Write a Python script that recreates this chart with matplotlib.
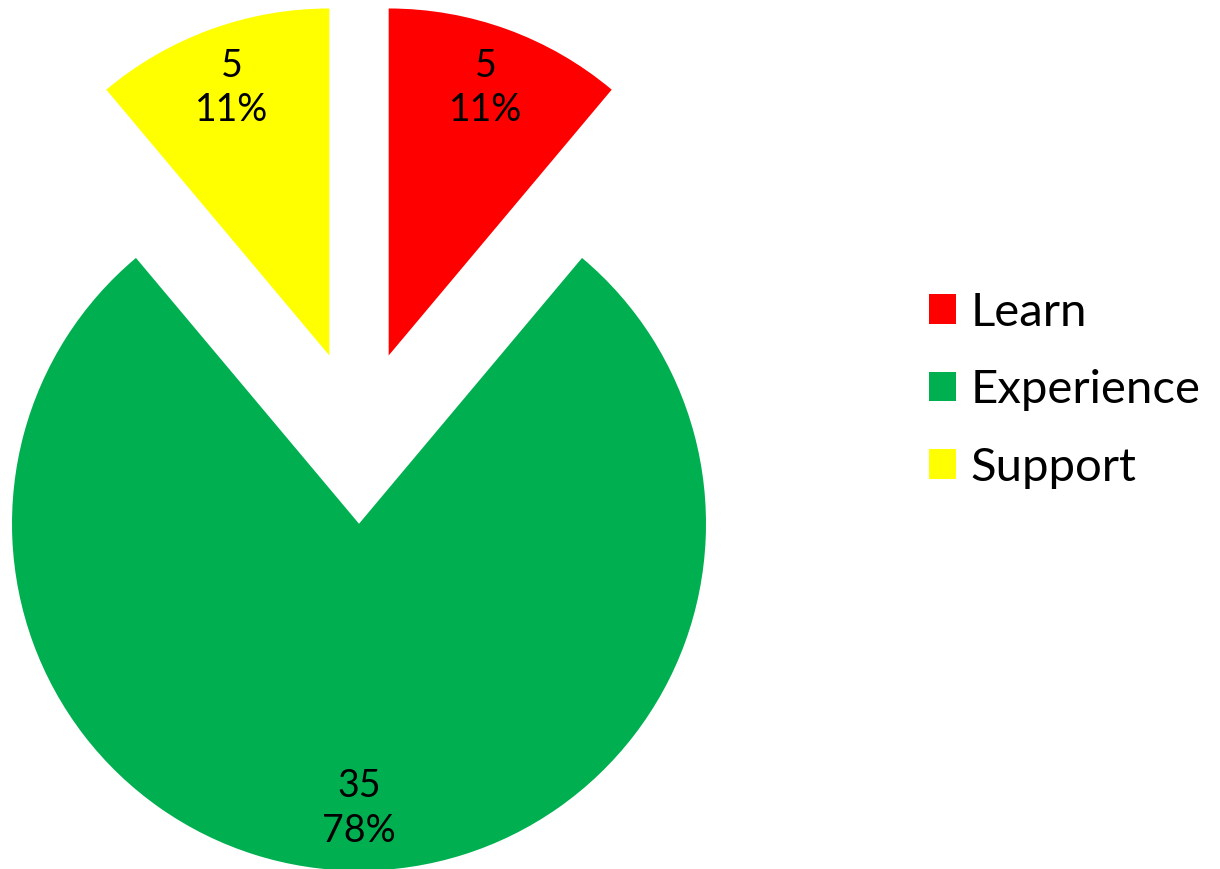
import matplotlib.pyplot as plt

labels = ['Learn', 'Experience', 'Support']
counts = [5, 35, 5]
colors = ['#FF0000', '#00B050', '#FFFF00']

plt.rcParams['font.family'] = ['Lato', 'DejaVu Sans']

fig = plt.figure(figsize=(12.2, 8.69), dpi=100)
ax = fig.add_axes([0, 0, 1, 1])

total = sum(counts)


def fmt(pct):
    val = int(round(pct * total / 100.0))
    return '{}\n{:.0f}%'.format(val, pct)


wedges, texts, autotexts = ax.pie(counts, colors=colors, startangle=90,
                                  counterclock=False,
                                  explode=[0.25, 0.25, 0.25],
                                  autopct=fmt, pctdistance=0.82,
                                  textprops={'fontsize': 27, 'color': 'black',
                                             'linespacing': 1.3})

# pie centre at pixel (359, 437) with a radius of 347 px
r = 347.0
ax.set_xlim(-359 / r, (1220 - 359) / r)
ax.set_ylim(-(869 - 437) / r, 437 / r)
ax.set_aspect('auto')
ax.axis('off')

ax.legend(wedges, labels, loc='center left', bbox_to_anchor=(0.746, 0.551),
          frameon=False, fontsize=34, handlelength=0.58, handleheight=0.58,
          handletextpad=0.3, labelspacing=0.75, borderaxespad=0)

fig.savefig('out.png', dpi=100)
